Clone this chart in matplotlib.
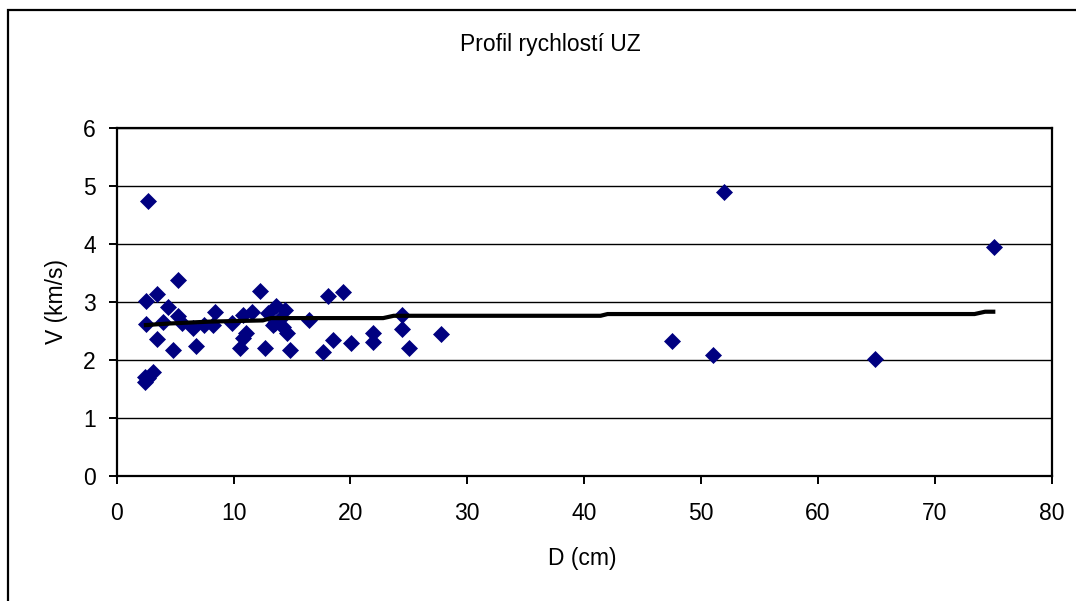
import matplotlib
matplotlib.use("Agg")
import matplotlib.pyplot as plt
from matplotlib.patches import Rectangle

plt.rcParams['font.family'] = ['Liberation Sans', 'DejaVu Sans']

# Scatter data: diameter D (cm) and velocity V (km/s)
D = [2.71, 2.48, 3.48, 5.22, 4.42, 5.22, 5.56, 3.99, 2.48, 6.50,
     7.47, 8.41, 8.27, 9.84, 10.84, 11.56, 11.07, 10.84, 10.56, 3.48,
     4.79, 6.76, 12.27, 12.70, 12.98, 13.64, 13.41, 13.98, 13.56, 14.41,
     14.26, 14.55, 14.84, 16.49, 18.12, 19.40, 18.49, 17.69, 20.03, 21.92,
     21.92, 24.45, 24.45, 25.03, 27.74, 47.52, 51.00, 51.94, 64.84, 75.05,
     2.42, 2.42, 2.70, 3.14]
V = [4.73, 3.02, 3.14, 3.37, 2.91, 2.76, 2.63, 2.65, 2.61, 2.55,
     2.60, 2.83, 2.60, 2.64, 2.77, 2.83, 2.47, 2.37, 2.20, 2.36,
     2.17, 2.24, 3.18, 2.20, 2.80, 2.93, 2.60, 2.70, 2.64, 2.86,
     2.57, 2.46, 2.17, 2.68, 3.10, 3.17, 2.35, 2.13, 2.29, 2.46,
     2.31, 2.77, 2.54, 2.20, 2.44, 2.32, 2.09, 4.89, 2.02, 3.95,
     1.62, 1.71, 1.68, 1.80]

# Trend line
line_D = [2.5, 4.3, 8.0, 12.5, 13.2, 22.8, 23.7, 41.4, 42.0, 73.4, 74.3, 75.0]
line_V = [2.60, 2.625, 2.66, 2.68, 2.72, 2.72, 2.76, 2.76, 2.79, 2.79, 2.83, 2.83]

x_ticks = [0, 10, 20, 30, 40, 50, 60, 70, 80]
y_ticks = [0, 1, 2, 3, 4, 5, 6]

title = "Profil rychlostí UZ"
xlabel = "D (cm)"
ylabel = "V (km/s)"

W, H = 1076, 601
fig = plt.figure(figsize=(W / 100, H / 100), dpi=100)
fig.patch.set_facecolor('white')

# outer chart border
fig.patches.append(Rectangle((8 / W, -0.02), 1.1, 1 - 10 / H + 0.02,
                             transform=fig.transFigure, fill=False,
                             edgecolor='black', linewidth=1.6))

ax = fig.add_axes([116.7 / W, 1 - 476 / H, (1051.7 - 116.7) / W, (476 - 127.7) / H])
ax.set_xlim(0, 80)
ax.set_ylim(0, 6)
ax.set_xticks(x_ticks)
ax.set_yticks(y_ticks)
ax.set_xticklabels([str(t) for t in x_ticks])
ax.set_yticklabels([str(t) for t in y_ticks])

ax.grid(axis='y', color='black', linewidth=1.0)
ax.set_axisbelow(True)
for s in ax.spines.values():
    s.set_linewidth(1.6)
    s.set_color('black')

ax.tick_params(axis='both', direction='out', length=6, width=1.4,
               labelsize=16.5, colors='black')
ax.tick_params(axis='x', pad=13)
ax.tick_params(axis='y', pad=9)

ax.plot(D, V, linestyle='none', marker='D', markersize=7.8,
        markerfacecolor='#000080', markeredgecolor='#000080',
        markeredgewidth=0.5, zorder=3)
ax.plot(line_D, line_V, color='black', linewidth=3.0, zorder=4,
        solid_joinstyle='round')

fig.text(550 / W, 1 - 44 / H, title, ha='center', va='center', fontsize=16.5)
fig.text(582 / W, 1 - 558 / H, xlabel, ha='center', va='center', fontsize=16.5)
fig.text(56 / W, 1 - 301 / H, ylabel, ha='center', va='center', fontsize=16.5,
         rotation=90)

fig.savefig('out.png', dpi=100)
